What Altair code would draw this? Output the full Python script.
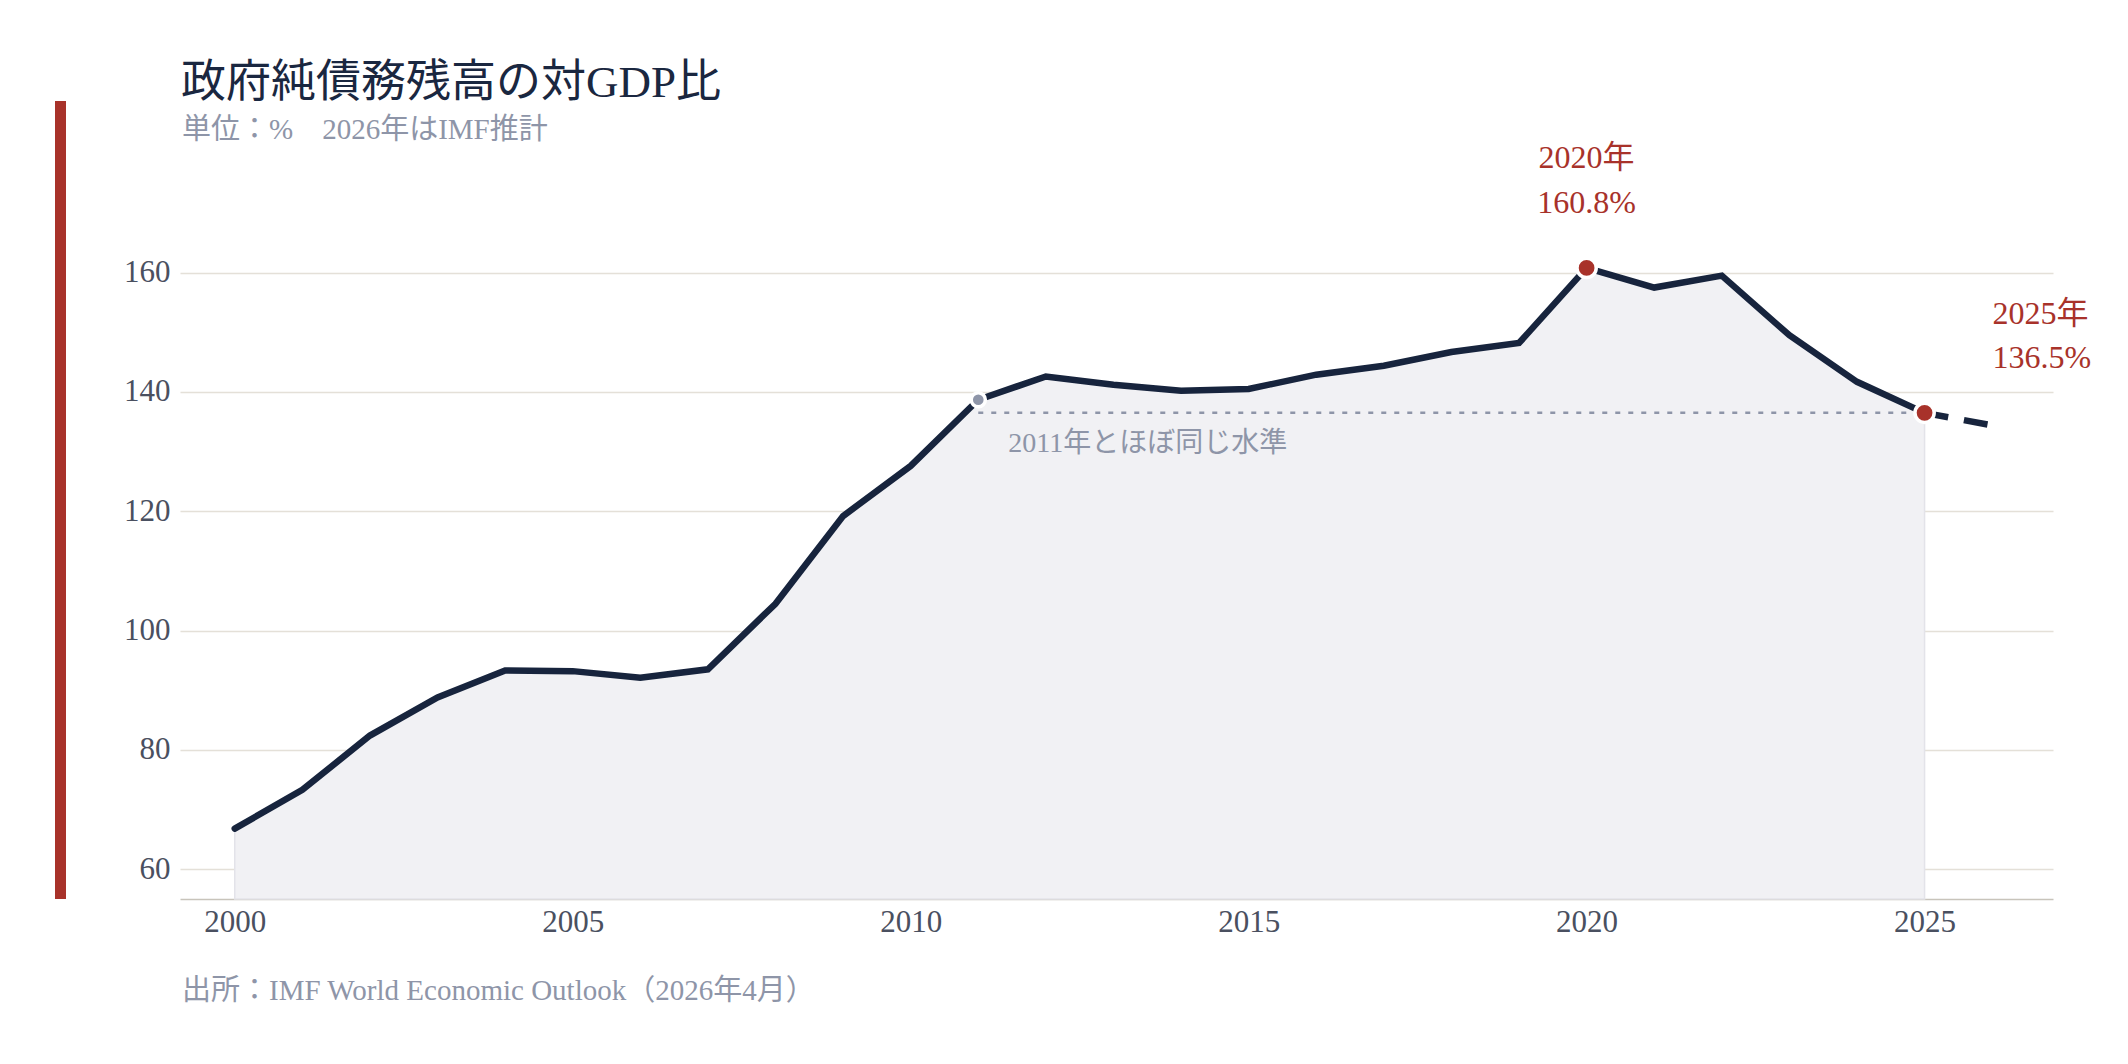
import altair as alt
import pandas as pd

# ---- data ----
years = list(range(2000, 2027))
values = [66.8, 73.3, 82.4, 88.8, 93.3, 93.2, 92.1, 93.5, 104.5, 119.2,
          127.6, 138.7, 142.6, 141.2, 140.2, 140.5, 142.9, 144.4, 146.7, 148.2,
          160.8, 157.5, 159.5, 149.5, 141.7, 136.5, 134.4]
last_actual = 2025
x_ticks = [2000, 2005, 2010, 2015, 2020, 2025]
y_ticks = [60, 80, 100, 120, 140, 160]

highlight_years = [2020, 2025]
ref_year = 2011
note_text = "2011年とほぼ同じ水準"

title_text = "政府純債務残高の対GDP比"
subtitle_text = "単位：%　2026年はIMF推計"
source_text = "出所：IMF World Economic Outlook（2026年4月）"

# ---- styling ----
FONT = "Liberation Serif, Noto Sans CJK JP, serif"
NAVY = "#17243d"
RED = "#a8322a"
GREY = "#8e95a8"
AREA = "#f1f1f4"

W, H = 1873, 686

df = pd.DataFrame({"year": years, "value": values})
actual = df[df.year <= last_actual]
proj = df[df.year >= last_actual]
val_of = dict(zip(years, values))

hl = pd.DataFrame({
    "year": highlight_years,
    "value": [val_of[y] for y in highlight_years],
})
hl["l1"] = [f"{y}年" for y in highlight_years]
hl["l2"] = [f"{val_of[y]}%" for y in highlight_years]

ref_df = pd.DataFrame({"year": [ref_year], "year2": [last_actual],
                       "value": [val_of[last_actual]],
                       "pt": [val_of[ref_year]], "note": [note_text]})

xs = alt.Scale(domain=[1999.19, 2026.9], nice=False, zero=False)
ys = alt.Scale(domain=[55, 170], nice=False, zero=False)

x_axis = alt.Axis(values=x_ticks, format="d", grid=False, ticks=False,
                  labelFontSize=31, labelColor="#4a5060", labelFont=FONT,
                  labelPadding=8, domainColor="#c8c4bb", domainWidth=1.5,
                  title=None)
y_axis = alt.Axis(values=y_ticks, grid=True, gridColor="#e4e0d8", gridWidth=1.5,
                  ticks=False, domain=False, labelFontSize=31,
                  labelColor="#4a5060", labelFont=FONT, labelPadding=10,
                  title=None)

area = alt.Chart(actual).mark_area(color=AREA, stroke="#e3e3e9", strokeWidth=1.5).encode(
    x=alt.X("year:Q", scale=xs, axis=x_axis),
    y=alt.Y("value:Q", scale=ys, axis=y_axis),
    y2=alt.datum(55),
)

ref_rule = alt.Chart(ref_df).mark_rule(color=GREY, strokeWidth=2.5, strokeDash=[5, 8]).encode(
    x=alt.X("year:Q", scale=xs), x2="year2:Q", y=alt.Y("value:Q", scale=ys)
)

line = alt.Chart(actual).mark_line(color=NAVY, strokeWidth=6.5, strokeCap="round").encode(
    x=alt.X("year:Q", scale=xs), y=alt.Y("value:Q", scale=ys)
)
line_proj = alt.Chart(proj).mark_line(color=NAVY, strokeWidth=6.5, strokeDash=[24, 16]).encode(
    x=alt.X("year:Q", scale=xs), y=alt.Y("value:Q", scale=ys)
)

ref_pt = alt.Chart(ref_df).mark_point(filled=True, fill=GREY, stroke="white",
                                      strokeWidth=3.5, size=200, opacity=1).encode(
    x=alt.X("year:Q", scale=xs), y=alt.Y("pt:Q", scale=ys)
)
hl_pts = alt.Chart(hl).mark_point(filled=True, fill=RED, stroke="white",
                                  strokeWidth=3.5, size=370, opacity=1).encode(
    x=alt.X("year:Q", scale=xs), y=alt.Y("value:Q", scale=ys)
)

peak = hl[hl.year == highlight_years[0]]
last = hl[hl.year == highlight_years[1]]

peak_l1 = alt.Chart(peak).mark_text(font=FONT, fontSize=32, color=RED, align="center",
                                    baseline="alphabetic", dy=-100).encode(
    x=alt.X("year:Q", scale=xs), y=alt.Y("value:Q", scale=ys), text="l1")
peak_l2 = alt.Chart(peak).mark_text(font=FONT, fontSize=32, color=RED, align="center",
                                    baseline="alphabetic", dy=-55).encode(
    x=alt.X("year:Q", scale=xs), y=alt.Y("value:Q", scale=ys), text="l2")
last_l1 = alt.Chart(last).mark_text(font=FONT, fontSize=32, color=RED, align="left",
                                    baseline="alphabetic", dx=68, dy=-89).encode(
    x=alt.X("year:Q", scale=xs), y=alt.Y("value:Q", scale=ys), text="l1")
last_l2 = alt.Chart(last).mark_text(font=FONT, fontSize=32, color=RED, align="left",
                                    baseline="alphabetic", dx=68, dy=-45).encode(
    x=alt.X("year:Q", scale=xs), y=alt.Y("value:Q", scale=ys), text="l2")

note = alt.Chart(ref_df).mark_text(font=FONT, fontSize=28, color=GREY, align="left",
                                   baseline="alphabetic", dx=30, dy=39).encode(
    x=alt.X("year:Q", scale=xs), y=alt.Y("value:Q", scale=ys), text="note")

txt = pd.DataFrame({"title": [title_text], "sub": [subtitle_text], "src": [source_text]})
title = alt.Chart(txt).mark_text(font=FONT, fontSize=45, color="#1a2740", align="left",
                                 baseline="alphabetic").encode(
    x=alt.value(1), y=alt.value(-116), text="title")
subtitle = alt.Chart(txt).mark_text(font=FONT, fontSize=29, color=GREY, align="left",
                                    baseline="alphabetic").encode(
    x=alt.value(2), y=alt.value(-74), text="sub")
source = alt.Chart(txt).mark_text(font=FONT, fontSize=29, color=GREY, align="left",
                                  baseline="alphabetic").encode(
    x=alt.value(2), y=alt.value(787), text="src")

red_bar = alt.Chart(txt).mark_rule(color="#a8322a", strokeWidth=11).encode(
    x=alt.value(-119.5), y=alt.value(-112), y2=alt.value(H))

chart = alt.layer(
    area, ref_rule, line, line_proj, ref_pt, hl_pts,
    peak_l1, peak_l2, last_l1, last_l2, note,
    title, subtitle, source, red_bar,
).properties(
    width=W, height=H,
    padding={"left": 172, "top": 205, "right": 67, "bottom": 149},
    autosize=alt.AutoSizeParams(type="none"),
    background="white",
).configure(font=FONT).configure_view(stroke=None)

chart.save("out.html", embed_options={"renderer": "svg", "actions": False})
